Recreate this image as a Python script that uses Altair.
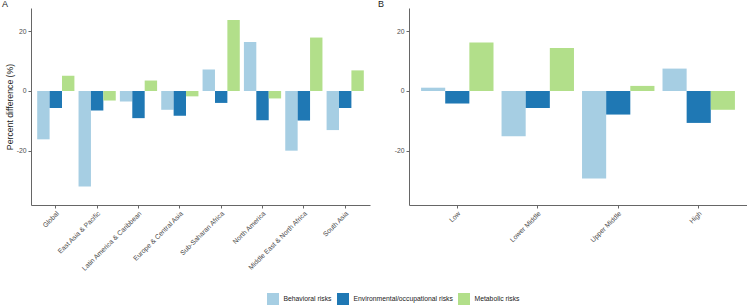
import altair as alt
import pandas as pd

risks = ["Behavioral risks", "Environmental/occupational risks", "Metabolic risks"]
colors = ["#a6cee3", "#1f78b4", "#b2df8a"]

regions = ["Global", "East Asia & Pacific", "Latin America & Caribbean",
           "Europe & Central Asia", "Sub-Saharan Africa", "North America",
           "Middle East & North Africa", "South Asia"]
reg_behavioral = [-16.2, -32.0, -3.5, -6.3, 7.2, 16.4, -20.0, -13.1]
reg_environmental = [-5.7, -6.5, -9.1, -8.3, -4.0, -9.8, -9.9, -5.7]
reg_metabolic = [5.1, -3.2, 3.5, -1.8, 23.8, -2.5, 17.9, 6.9]

incomes = ["Low", "Lower Middle", "Upper Middle", "High"]
inc_behavioral = [1.1, -15.2, -29.3, 7.5]
inc_environmental = [-4.2, -5.7, -7.9, -10.7]
inc_metabolic = [16.2, 14.4, 1.7, -6.3]


def long_df(cats, series):
    rows = []
    for ri, vals in enumerate(series):
        for c, v in zip(cats, vals):
            rows.append({"cat": c, "risk": risks[ri], "value": v})
    return pd.DataFrame(rows)


df_a = long_df(regions, [reg_behavioral, reg_environmental, reg_metabolic])
df_b = long_df(incomes, [inc_behavioral, inc_environmental, inc_metabolic])

FONT = "Liberation Sans"
AXIS_COL = "#666666"
LAB_COL = "#4d4d4d"

color = alt.Color(
    "risk:N",
    scale=alt.Scale(domain=risks, range=colors),
    legend=alt.Legend(
        title=None, orient="none", direction="horizontal",
        legendX=236, legendY=285,
        symbolType="square", symbolSize=144, symbolStrokeWidth=0,
        symbolOpacity=1, labelFontSize=6.8, labelColor="#1a1a1a",
        labelFont=FONT, labelOffset=4.5, columnPadding=5,
    ),
)

yscale = alt.Scale(domain=[-38.2, 27.8], nice=False, zero=False)


def panel(df, cats, title, ytitle, w, dx):
    xaxis = alt.Axis(title=None, labelAngle=-45, labelAlign="right",
                     labelBaseline="top", labelFontSize=6.8, labelColor=LAB_COL,
                     labelFont=FONT, domainColor=AXIS_COL, tickColor=AXIS_COL,
                     tickSize=3, labelPadding=2, grid=False)
    yaxis = alt.Axis(values=[-20, 0, 20], labelExpr="'' + datum.value",
                     labelFontSize=6.8, labelColor=LAB_COL, labelFont=FONT,
                     domainColor=AXIS_COL, tickColor=AXIS_COL, tickSize=3,
                     labelPadding=2, grid=False, title=ytitle,
                     titleFontSize=8.7, titleFontWeight="normal",
                     titleColor="#1a1a1a", titleFont=FONT, titlePadding=2)
    return alt.Chart(df, title=alt.TitleParams(
        title, anchor="start", fontSize=9, fontWeight="normal", font=FONT,
        color="#1a1a1a", offset=-1, frame="group", dx=dx)).mark_bar().encode(
        x=alt.X("cat:N", sort=cats, axis=xaxis,
                scale=alt.Scale(paddingInner=0.1, paddingOuter=0.15)),
        xOffset=alt.XOffset("risk:N", sort=risks,
                            scale=alt.Scale(paddingInner=0, paddingOuter=0)),
        y=alt.Y("value:Q", scale=yscale, axis=yaxis),
        color=color,
    ).properties(width=w, height=197)


left = panel(df_a, regions, "A", "Percent difference (%)", 339, -29)
right = panel(df_b, incomes, "B", None, 338, -31)

chart = alt.hconcat(left, right, spacing=8).resolve_scale(
    xOffset="independent", x="independent", y="independent", color="shared"
).properties(
    padding={"left": 2, "top": 0, "right": 0, "bottom": 0}
).configure(background="white").configure_view(strokeWidth=0, stroke=None)

chart.save("out.html", embed_options={"renderer": "svg", "actions": False})
